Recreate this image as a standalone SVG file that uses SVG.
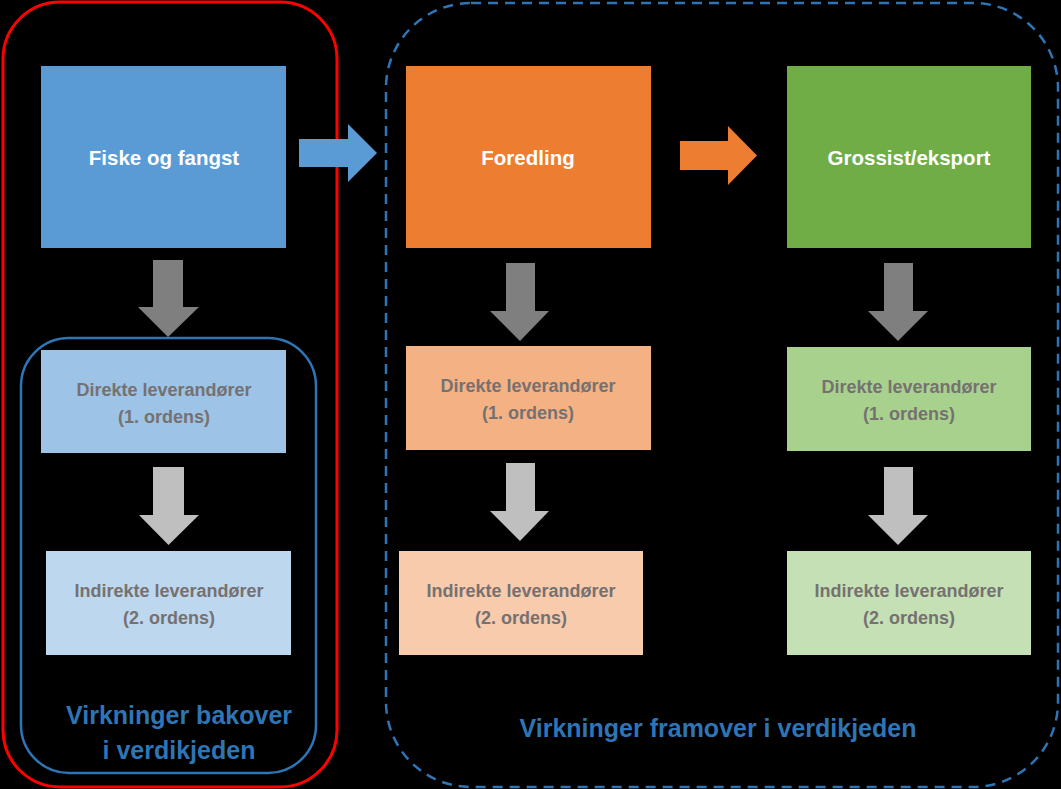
<svg xmlns="http://www.w3.org/2000/svg" width="1061" height="789" viewBox="0 0 1061 789">
<style>
.t{font-family:"Liberation Sans",Arial,sans-serif;font-weight:bold;text-anchor:middle}
.main{fill:#FFFFFF;font-size:20.5px}
.sub{fill:#767171;font-size:18px}
.lbl{fill:#2E75B6;font-size:25px}
</style>
<rect x="0" y="0" width="1061" height="789" fill="#000000"/>
<g id="group-backward">
<rect x="3" y="2" width="334" height="785" rx="57" ry="57" fill="none" stroke="#FF0000" stroke-width="3"/>
</g>
<g id="group-suppliers-back">
<rect x="21" y="338" width="295" height="435" rx="48" ry="48" fill="none" stroke="#2E75B6" stroke-width="2.5"/>
<text class="t lbl" x="179" y="724">Virkninger bakover</text>
<text class="t lbl" x="179" y="759">i verdikjeden</text>
</g>
<g id="group-forward">
<rect x="386" y="3" width="672" height="784" rx="85" ry="85" fill="none" stroke="#2E75B6" stroke-width="2.5" stroke-dasharray="10,7"/>
<text class="t lbl" x="718" y="737">Virkninger framover i verdikjeden</text>
</g>
<g id="connectors">
<polygon points="299,139 348,139 348,124 377,153 348,182 348,167 299,167" fill="#5B9BD5"/>
<polygon points="680,141 728,141 728,126 757,155.5 728,185 728,170 680,170" fill="#ED7D31"/>
<polygon points="153,260 183,260 183,307 199,307 168,337 138,307 153,307" fill="#7F7F7F"/>
<polygon points="153,467 184,467 184,515 199,515 168.5,545 139,515 153,515" fill="#BFBFBF"/>
<polygon points="506,263 535,263 535,311 549,311 520,341 490,311 506,311" fill="#7F7F7F"/>
<polygon points="506,463 535,463 535,511 549,511 520,541 490,511 506,511" fill="#BFBFBF"/>
<polygon points="884,263 913,263 913,311 928,311 898,341 868,311 884,311" fill="#7F7F7F"/>
<polygon points="884,467 913,467 913,515 928,515 898,545 868,515 884,515" fill="#BFBFBF"/>
</g>
<g id="node-fiske">
<rect x="41" y="66" width="245" height="182" fill="#5B9BD5"/>
<text class="t main" x="164" y="165">Fiske og fangst</text>
</g>
<g id="node-foredling">
<rect x="406" y="66" width="245" height="182" fill="#ED7D31"/>
<text class="t main" x="528" y="165">Foredling</text>
</g>
<g id="node-grossist">
<rect x="787" y="66" width="244" height="182" fill="#70AD47"/>
<text class="t main" x="909" y="165">Grossist/eksport</text>
</g>
<g id="node-direkte-1">
<rect x="41" y="350" width="245" height="103" fill="#9DC3E6"/>
<text class="t sub" x="164" y="396">Direkte leverandører</text>
<text class="t sub" x="164" y="423">(1. ordens)</text>
</g>
<g id="node-indirekte-1">
<rect x="46" y="551" width="245" height="104" fill="#BDD7EE"/>
<text class="t sub" x="169" y="597">Indirekte leverandører</text>
<text class="t sub" x="169" y="624">(2. ordens)</text>
</g>
<g id="node-direkte-2">
<rect x="406" y="346" width="245" height="104" fill="#F4B183"/>
<text class="t sub" x="528" y="392">Direkte leverandører</text>
<text class="t sub" x="528" y="419">(1. ordens)</text>
</g>
<g id="node-indirekte-2">
<rect x="399" y="551" width="244" height="104" fill="#F8CBAD"/>
<text class="t sub" x="521" y="597">Indirekte leverandører</text>
<text class="t sub" x="521" y="624">(2. ordens)</text>
</g>
<g id="node-direkte-3">
<rect x="787" y="347" width="244" height="104" fill="#A9D18E"/>
<text class="t sub" x="909" y="393">Direkte leverandører</text>
<text class="t sub" x="909" y="420">(1. ordens)</text>
</g>
<g id="node-indirekte-3">
<rect x="787" y="551" width="244" height="104" fill="#C5E0B4"/>
<text class="t sub" x="909" y="597">Indirekte leverandører</text>
<text class="t sub" x="909" y="624">(2. ordens)</text>
</g>
</svg>
